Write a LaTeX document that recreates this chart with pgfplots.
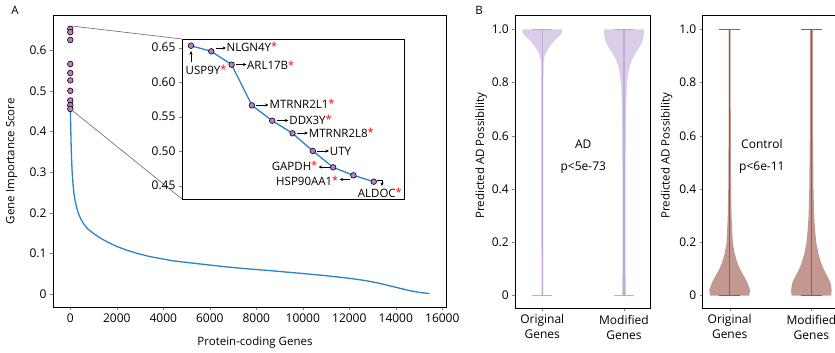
\documentclass[border=0pt]{standalone}
\usepackage{pgfplots}
\pgfplotsset{compat=1.18}
\usepackage{pgfplotstable}
\usetikzlibrary{arrows.meta}
\usepackage{fontspec}
\setmainfont{Open Sans}
\definecolor{curveblue}{HTML}{2B83C6}
\definecolor{mk}{HTML}{C27BC4}
\definecolor{adfill}{HTML}{DACDE8}
\definecolor{adline}{HTML}{C3A9D8}
\definecolor{ctfill}{HTML}{C29890}
\definecolor{ctline}{HTML}{A3554A}

\pgfplotstableread{
x y
0 0.4558
15 0.42
30 0.38
50 0.34
75 0.305
103 0.281
150 0.25
202 0.231
270 0.214
344 0.199
450 0.185
559 0.174
750 0.16
990 0.1495
1250 0.139
1565 0.129
2000 0.117
2426 0.108
2900 0.0995
3428 0.092
4430 0.0815
5500 0.0745
6500 0.068
7500 0.0625
8500 0.058
9880 0.051
11000 0.045
12000 0.0387
12700 0.033
13320 0.026
14000 0.0165
14610 0.008
15000 0.004
15440 0.001
}\curvetab

\pgfplotstableread{
r y
1 0.6529
2 0.6447
3 0.6254
4 0.5664
5 0.5442
6 0.5259
7 0.5003
8 0.4766
9 0.4650
10 0.4558
}\toptab

% violin outlines: y, half width in px (81.7 px per category), side
\pgfplotstableread{
y w s
0.0 1.0 -1
0.8 1.1 -1
0.88 1.5 -1
0.90 2.3 -1
0.91 3.5 -1
0.92 5 -1
0.93 6.5 -1
0.94 8.5 -1
0.95 10.5 -1
0.96 13 -1
0.97 16 -1
0.98 18.5 -1
0.99 20 -1
1.0 20 -1
1.0 20 1
0.99 20 1
0.98 18.5 1
0.97 16 1
0.96 13 1
0.95 10.5 1
0.94 8.5 1
0.93 6.5 1
0.92 5 1
0.91 3.5 1
0.90 2.3 1
0.88 1.5 1
0.8 1.1 1
0.0 1.0 1
}\adorig
\pgfplotstableread{
y w s
0.0 1.8 -1
0.03 2 -1
0.1 1.6 -1
0.3 1.6 -1
0.6 1.8 -1
0.72 2.2 -1
0.78 2.8 -1
0.82 3.8 -1
0.85 5 -1
0.87 6.5 -1
0.89 8.5 -1
0.91 11.5 -1
0.93 15 -1
0.95 18 -1
0.97 19.5 -1
0.99 20 -1
1.0 19.5 -1
1.0 19.5 1
0.99 20 1
0.97 19.5 1
0.95 18 1
0.93 15 1
0.91 11.5 1
0.89 8.5 1
0.87 6.5 1
0.85 5 1
0.82 3.8 1
0.78 2.8 1
0.72 2.2 1
0.6 1.8 1
0.3 1.6 1
0.1 1.6 1
0.03 2 1
0.0 1.8 1
}\admod
\pgfplotstableread{
y w s
0.0 19.5 -1
0.02 20.5 -1
0.046 18 -1
0.065 15.5 -1
0.083 12.8 -1
0.10 10.3 -1
0.12 8 -1
0.14 6.3 -1
0.158 5 -1
0.18 4 -1
0.196 3.2 -1
0.246 2.5 -1
0.3 1.9 -1
0.4 1.4 -1
0.6 1.1 -1
1.0 1.0 -1
1.0 1.0 1
0.6 1.1 1
0.4 1.4 1
0.3 1.9 1
0.246 2.5 1
0.196 3.2 1
0.18 4 1
0.158 5 1
0.14 6.3 1
0.12 8 1
0.10 10.3 1
0.083 12.8 1
0.065 15.5 1
0.046 18 1
0.02 20.5 1
0.0 19.5 1
}\ctorig
\pgfplotstableread{
y w s
0.0 19.8 -1
0.02 20.3 -1
0.046 19.3 -1
0.065 17 -1
0.083 14.5 -1
0.10 12.2 -1
0.12 10 -1
0.14 8.4 -1
0.158 7 -1
0.18 5.9 -1
0.196 5 -1
0.246 3.7 -1
0.3 2.8 -1
0.4 2.1 -1
0.6 1.6 -1
1.0 1.4 -1
1.0 1.4 1
0.6 1.6 1
0.4 2.1 1
0.3 2.8 1
0.246 3.7 1
0.196 5 1
0.18 5.9 1
0.158 7 1
0.14 8.4 1
0.12 10 1
0.10 12.2 1
0.083 14.5 1
0.065 17 1
0.046 19.3 1
0.02 20.3 1
0.0 19.8 1
}\ctmod

\pgfplotsset{
  every tick label/.append style={font=\fontsize{12}{14}\selectfont},
  every axis label/.append style={font=\fontsize{11.5}{14}\selectfont},
  /pgf/number format/assume math mode=true,
  /pgf/number format/1000 sep={},
}

\begin{document}
\begin{tikzpicture}
\clip (0pt,0pt) rectangle (835pt,-353pt);

% ---------------- Panel A main ----------------
\begin{axis}[name=main, at={(53pt,-307.3pt)}, anchor=south west,
  scale only axis, width=393.7pt, height=292.3pt,
  xmin=-744, xmax=16189, ymin=-0.0328, ymax=0.687,
  xtick={0,2000,4000,6000,8000,10000,12000,14000,16000},
  ytick={0,0.1,0.2,0.3,0.4,0.5,0.6},
  scaled x ticks=false,
  tick align=outside, xtick pos=bottom, ytick pos=left,
  major tick length=3pt, axis line style={line width=0.9pt},
  xlabel={Protein-coding Genes}, ylabel={Gene Importance Score},
  xlabel style={at={(axis description cs:0.513,-0.119)}, anchor=center},
  ylabel style={at={(axis description cs:-0.105,0.5)}, anchor=center, rotate=0},
  clip=false]
\addplot[curveblue, line width=1.3pt] table[x=x,y=y] {\curvetab};
\addplot[only marks, mark=*, mark size=2.8pt, mark options={fill=mk, draw=black, line width=0.6pt}] table[x expr=0, y=y] {\toptab};
\end{axis}

% connectors
\draw[gray!80!black, line width=0.6pt] (71.7pt,-26pt) -- (182pt,-39pt);
\draw[gray!80!black, line width=0.6pt] (71.7pt,-110pt) -- (182pt,-199pt);

% ---------------- Inset ----------------
\begin{axis}[name=inset, at={(182pt,-199pt)}, anchor=south west,
  scale only axis, width=222pt, height=160pt,
  xmin=0.557, xmax=11.49, ymin=0.4307, ymax=0.6626,
  xtick=\empty, ytick={0.45,0.5,0.55,0.6,0.65},
  yticklabel style={/pgf/number format/fixed, /pgf/number format/fixed zerofill, /pgf/number format/precision=2},
  tick align=outside, ytick pos=left, major tick length=3pt,
  axis line style={line width=0.9pt}, axis background/.style={fill=white},
  clip=false]
\addplot[curveblue, line width=1.3pt] table[x=r,y=y] {\toptab};
\addplot[only marks, mark=*, mark size=2.8pt, mark options={fill=mk, draw=black, line width=0.6pt}] table[x=r,y=y] {\toptab};
\end{axis}

% gene labels
\tikzset{gl/.style={font=\fontsize{11.5}{13}\selectfont, inner sep=0pt},
  ar/.style={-{Stealth[length=3.5pt,width=3pt]}, line width=0.6pt}}
\newcommand{\st}{\textcolor{red}{\raisebox{0.15ex}{\fontsize{11}{11}\selectfont*}}}
\draw[ar] (191pt,-62pt) -- (191pt,-51pt);
\node[gl, anchor=west] at (185.5pt,-69.5pt) {USP9Y\st};
\draw[ar] (215.5pt,-48pt) -- (226pt,-48pt);
\node[gl, anchor=west] at (226.5pt,-46.7pt) {NLGN4Y\st};
\draw[ar] (235.5pt,-64.5pt) -- (246.5pt,-64.5pt);
\node[gl, anchor=west] at (247pt,-65.3pt) {ARL17B\st};
\draw[ar] (256pt,-105pt) -- (268.5pt,-105pt);
\node[gl, anchor=west] at (269.5pt,-104.2pt) {MTRNR2L1\st};
\draw[ar] (276.5pt,-120.5pt) -- (288.5pt,-120.5pt);
\node[gl, anchor=west] at (289.2pt,-120pt) {DDX3Y\st};
\draw[ar] (296.5pt,-133pt) -- (308pt,-133pt);
\node[gl, anchor=west] at (308.7pt,-133.3pt) {MTRNR2L8\st};
\draw[ar] (316.5pt,-151pt) -- (329pt,-151pt);
\node[gl, anchor=west] at (329.7pt,-151.7pt) {UTY};
\draw[ar] (329.5pt,-167pt) -- (318.5pt,-167pt);
\node[gl, anchor=east] at (317.5pt,-165.7pt) {GAPDH\st};
\draw[ar] (350pt,-179.5pt) -- (339.5pt,-179.5pt);
\node[gl, anchor=east] at (338.5pt,-181pt) {HSP90AA1\st};
\draw[ar] (377pt,-180.5pt) -- (382pt,-180.5pt) -- (382pt,-186pt);
\node[gl, anchor=east] at (402pt,-192.5pt) {ALDOC\st};

\node[font=\fontsize{11.5}{13}\selectfont] at (15pt,-10.7pt) {A};
\node[font=\fontsize{11.5}{13}\selectfont] at (479pt,-10pt) {B};

% ---------------- Panel B ----------------
\pgfplotsset{vio/.style={
  scale only axis, width=135.4pt, height=292.6pt,
  xmin=0.67, xmax=2.327, ymin=-0.048, ymax=1.051,
  xtick={1,2}, xticklabels={Original\\Genes, Modified\\Genes},
  xticklabel style={align=center, font=\fontsize{12}{15}\selectfont},
  ytick={0,0.2,0.4,0.6,0.8,1}, yticklabels={0,0.2,0.4,0.6,0.8,1.0},
  tick align=outside, xtick pos=bottom, ytick pos=left, major tick length=3pt,
  axis line style={line width=0.9pt},
  ylabel={Predicted AD Possibility}, clip=false}}

\begin{axis}[vio, at={(515.3pt,-308.3pt)}, anchor=south west,
  ylabel style={at={(axis description cs:-0.253,0.522)}, anchor=center}]
\addplot[fill=adfill, draw=none] table[x expr={1+\thisrow{s}*\thisrow{w}/81.7}, y=y] {\adorig} -- cycle;
\addplot[fill=adfill, draw=none] table[x expr={2+\thisrow{s}*\thisrow{w}/81.7}, y=y] {\admod} -- cycle;
\addplot[adline, line width=1.1pt] coordinates {(1,0) (1,1)};
\addplot[adline, line width=1.1pt] coordinates {(0.878,0) (1.122,0)};
\addplot[adline, line width=1.1pt] coordinates {(0.878,1) (1.122,1)};
\addplot[adline, line width=1.1pt] coordinates {(2,0) (2,1)};
\addplot[adline, line width=1.1pt] coordinates {(1.878,0) (2.122,0)};
\addplot[adline, line width=1.1pt] coordinates {(1.878,1) (2.122,1)};
\node[font=\fontsize{12}{14}\selectfont] at (axis cs:1.502,0.569) {AD};
\node[font=\fontsize{12}{14}\selectfont] at (axis cs:1.502,0.479) {p<5e-73};
\end{axis}

\begin{axis}[vio, at={(702.7pt,-308.3pt)}, anchor=south west,
  ylabel style={at={(axis description cs:-0.266,0.522)}, anchor=center}]
\addplot[fill=ctfill, draw=none] table[x expr={1+\thisrow{s}*\thisrow{w}/81.7}, y=y] {\ctorig} -- cycle;
\addplot[fill=ctfill, draw=none] table[x expr={2+\thisrow{s}*\thisrow{w}/81.7}, y=y] {\ctmod} -- cycle;
\addplot[ctline, line width=1.1pt] coordinates {(1,0) (1,1)};
\addplot[ctline, line width=1.1pt] coordinates {(0.872,0) (1.128,0)};
\addplot[ctline, line width=1.1pt] coordinates {(0.872,1) (1.128,1)};
\addplot[ctline, line width=1.1pt] coordinates {(2,0) (2,1)};
\addplot[ctline, line width=1.1pt] coordinates {(1.872,0) (2.128,0)};
\addplot[ctline, line width=1.1pt] coordinates {(1.872,1) (2.128,1)};
\node[font=\fontsize{12}{14}\selectfont] at (axis cs:1.394,0.569) {Control};
\node[font=\fontsize{12}{14}\selectfont] at (axis cs:1.394,0.479) {p<6e-11};
\end{axis}
\end{tikzpicture}
\end{document}
